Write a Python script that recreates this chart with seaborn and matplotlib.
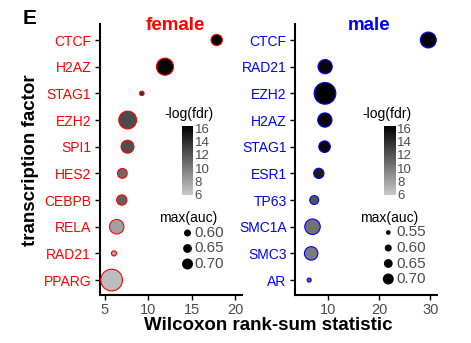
import numpy as np
import pandas as pd
import matplotlib
matplotlib.use("Agg")
import matplotlib.pyplot as plt
import seaborn as sns
from matplotlib.colors import LinearSegmentedColormap, Normalize
from matplotlib.cm import ScalarMappable

# ---------------- data ----------------
female_tf = ["CTCF", "H2AZ", "STAG1", "EZH2", "SPI1", "HES2", "CEBPB", "RELA", "RAD21", "PPARG"]
female_stat = [17.88, 11.92, 9.25, 7.62, 7.60, 7.00, 6.94, 6.35, 6.04, 5.77]
female_fdr = [16.4, 16.0, 14.0, 12.5, 12.3, 10.9, 11.4, 8.0, 7.7, 6.6]
female_auc = [0.606, 0.690, 0.552, 0.703, 0.626, 0.590, 0.595, 0.648, 0.555, 0.780]

male_tf = ["CTCF", "RAD21", "EZH2", "H2AZ", "STAG1", "ESR1", "TP63", "SMC1A", "SMC3", "AR"]
male_stat = [29.6, 9.50, 9.47, 9.45, 9.39, 8.27, 7.37, 7.04, 6.78, 6.39]
male_fdr = [16.2, 16.0, 16.4, 16.0, 16.0, 15.0, 12.0, 10.5, 10.0, 11.0]
male_auc = [0.669, 0.644, 0.780, 0.644, 0.609, 0.595, 0.582, 0.663, 0.634, 0.550]

female_xticks = [5, 10, 15, 20]
male_xticks = [10, 20, 30]
fdr_ticks = [6, 8, 10, 12, 14, 16]
female_auc_breaks = [0.60, 0.65, 0.70]
male_auc_breaks = [0.55, 0.60, 0.65, 0.70]

# ---------------- style ----------------
sns.set_theme(style="white")
plt.rcParams["font.family"] = ["Liberation Sans", "DejaVu Sans"]

W, H = 471, 343
fig = plt.figure(figsize=(W / 100, H / 100), dpi=100)

def fx(x):
    return x / W

def fy(y):
    return 1 - y / H

cmap = LinearSegmentedColormap.from_list("greys_fdr", ["#c9c9c9", "#000000"])
fdr_norm = Normalize(vmin=5.9, vmax=16.4)
SIZE_RANGE = (8.3, 244)
SIZE_NORM = (0.55, 0.78)
TICKGREY = "#4d4d4d"

def panel(left, right, tfs, stats, fdrs, aucs, xlim, xticks, color):
    ax = fig.add_axes([fx(left), fy(295), fx(right - left), (295 - 24) / H])
    df = pd.DataFrame({"tf": tfs, "stat": stats, "fdr": fdrs, "auc": aucs,
                       "ypos": np.arange(len(tfs))})
    sns.scatterplot(data=df, x="stat", y="ypos", hue="fdr", size="auc",
                    palette=cmap, hue_norm=fdr_norm, sizes=SIZE_RANGE,
                    size_norm=SIZE_NORM, edgecolor=color, linewidth=0.8,
                    legend=False, ax=ax, zorder=3)
    ax.set_xlim(*xlim)
    ax.set_ylim(len(tfs) - 0.44, -0.6)
    ax.set_yticks(np.arange(len(tfs)))
    ax.set_yticklabels(tfs, fontsize=10, color=color)
    ax.set_xticks(xticks)
    ax.set_xticklabels([str(t) for t in xticks], fontsize=10.5, color=TICKGREY)
    ax.set_xlabel("")
    ax.set_ylabel("")
    for s in ["top", "right"]:
        ax.spines[s].set_visible(False)
    for s in ["left", "bottom"]:
        ax.spines[s].set_linewidth(1.5)
        ax.spines[s].set_color("black")
    ax.tick_params(axis="both", which="major", length=3.6, width=1.0,
                   color="black", pad=2.5, direction="out",
                   left=True, bottom=True)
    ax.grid(False)
    ax.set_facecolor("white")
    return ax

ax_f = panel(99.5, 242, female_tf, female_stat, female_fdr, female_auc,
             (4.37, 20.8), female_xticks, "red")
ax_m = panel(295, 437, male_tf, male_stat, male_fdr, male_auc,
             (3.63, 31.3), male_xticks, "blue")

# titles
fig.text(fx(175), fy(25), "female", ha="center", va="center",
         fontsize=13.5, fontweight="bold", color="red")
fig.text(fx(369), fy(25), "male", ha="center", va="center",
         fontsize=13.5, fontweight="bold", color="blue")
fig.text(fx(30), fy(19), "E", ha="center", va="center",
         fontsize=15, fontweight="bold", color="black")
fig.text(fx(31), fy(160), "transcription factor", ha="center", va="center",
         rotation=90, fontsize=13.5, fontweight="bold", color="black")
fig.text(fx(268), fy(326), "Wilcoxon rank-sum statistic", ha="center",
         va="center", fontsize=13.5, fontweight="bold", color="black")

# colorbars
def colorbar(x0, title_x):
    cax = fig.add_axes([fx(x0), fy(195), fx(11.5), 69 / H])
    cb = fig.colorbar(ScalarMappable(norm=fdr_norm, cmap=cmap), cax=cax,
                      ticks=fdr_ticks)
    cb.outline.set_visible(False)
    cax.tick_params(length=2.5, width=0.6, color="white", direction="in",
                    labelsize=9.5, labelcolor=TICKGREY, pad=1.2)
    fig.text(fx(title_x), fy(114), "-log(fdr)", ha="center", va="center",
             fontsize=10, color="black")

colorbar(181.5, 189)
colorbar(384, 386.5)

# size legends (overlay in pixel coordinates)
ov = fig.add_axes([0, 0, 1, 1], zorder=10)
ov.set_xlim(0, W)
ov.set_ylim(H, 0)
ov.axis("off")
ov.patch.set_alpha(0)

legend_diam = {0.55: 4.7, 0.60: 7.0, 0.65: 8.8, 0.70: 11.0}

def size_legend(breaks, title_x, dot_x, label_x, y0):
    ov.text(title_x, 218, "max(auc)", ha="center", va="center",
            fontsize=10, color="black")
    for i, b in enumerate(breaks):
        y = y0 + i * 15.5
        d = legend_diam[b] * 0.72
        ov.scatter([dot_x], [y], s=d * d, color="black", edgecolor="none")
        ov.text(label_x, y, f"{b:.2f}", ha="left", va="center",
                fontsize=11, color=TICKGREY)

size_legend(female_auc_breaks, 188.5, 187.5, 194.5, 233)
size_legend(male_auc_breaks, 389.5, 388.3, 396, 232.5)

fig.savefig("out.png", dpi=100, facecolor="white")
